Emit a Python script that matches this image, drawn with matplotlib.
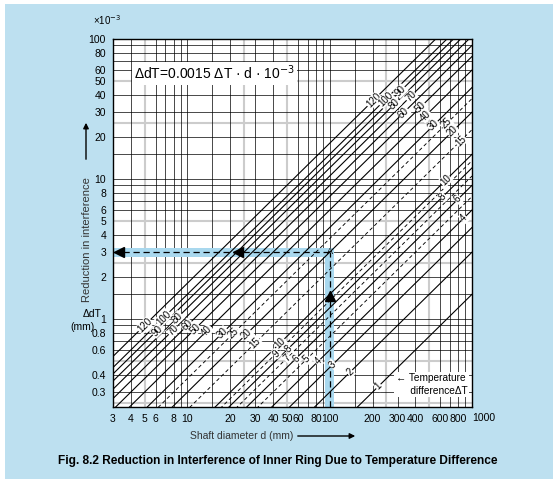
import numpy as np
import matplotlib
matplotlib.use('Agg')
import matplotlib.pyplot as plt
from matplotlib.patches import Rectangle, FancyArrowPatch

plt.rcParams['font.family'] = ['Liberation Sans', 'DejaVu Sans']

# temperature differences (deg C) drawn as lines dAT = 0.0015 * dT * d
delta_t = [1, 2, 3, 4, 5, 6, 7, 8, 9, 10, 15, 20, 25, 30, 40, 50, 60, 70, 80, 90, 100, 120]
dashed_t = [5, 7, 9, 15, 25]

# where the labels sit along each line (shaft diameter, mm)
low_label_d = {120: 5.0, 100: 6.8, 90: 6.1, 80: 8.5, 70: 7.9, 60: 10, 50: 11.3, 40: 13.7,
               30: 17.7, 25: 21, 20: 26, 15: 30, 10: 45, 9: 42, 8: 51, 7: 50, 6: 58,
               5: 69, 4: 83, 3: 105, 2: 139, 1: 220}
high_label_d = {120: 203, 100: 247, 90: 315, 80: 286, 70: 371, 60: 330, 50: 436, 40: 472,
                30: 538, 25: 664, 20: 731, 15: 834, 10: 653, 8: 623, 6: 794, 4: 874}

x_ticks = [3, 4, 5, 6, 8, 10, 20, 30, 40, 50, 60, 80, 100, 200, 300, 400, 600, 800]
y_ticks = [0.3, 0.4, 0.6, 0.8, 1, 2, 3, 4, 5, 6, 8, 10, 20, 30, 40, 50, 60, 80, 100]

# worked example: d = 100 mm, dT = 20 -> 3e-3 mm
ex_d, ex_y = 100, 3

W, H = 557, 483
fig = plt.figure(figsize=(W / 100, H / 100), dpi=100)
fig.patch.set_facecolor('white')
fig.patches.append(Rectangle((5 / W, 4 / H), (W - 9) / W, (H - 8) / H,
                             transform=fig.transFigure, facecolor='#bde0f0',
                             edgecolor='none', zorder=-10))

ax = fig.add_axes([113 / W, 1 - 407 / H, (472 - 113) / W, (407 - 39) / H])
ax.set_zorder(1)
ax.set_facecolor('white')
ax.set_xscale('log')
ax.set_yscale('log')
xmin, xmax, ymin, ymax = 3, 1000, 0.235, 100
ax.set_xlim(xmin, xmax)
ax.set_ylim(ymin, ymax)

# grid
for k in [1, 10, 100, 1000]:
    for m in [1, 1.5, 2, 3, 4, 6, 7, 8, 9]:
        v = m * k
        if xmin < v < xmax:
            ax.axvline(v, color='black', lw=0.5, zorder=1)
    for m in [2.5, 5]:
        v = m * k
        if xmin < v < xmax:
            ax.axvline(v, color='#cccccc', lw=1.5, zorder=0.5)
for k in [0.1, 1, 10]:
    for m in [1, 1.5, 2, 3, 4, 6, 7, 8, 9]:
        v = m * k
        if ymin < v < ymax:
            ax.axhline(v, color='black', lw=0.5, zorder=1)
    for m in [2.5, 5]:
        v = m * k
        if ymin < v < ymax:
            ax.axhline(v, color='#cccccc', lw=1.5, zorder=0.5)

# example highlight bands
band_lo, band_hi = ex_y / 1.077, ex_y * 1.077
ax.fill_between([xmin, ex_d * 1.08], band_lo, band_hi, color='#a9d8ee', lw=0, zorder=1.5)
ax.fill_betweenx([ymin, band_hi], ex_d / 1.073, ex_d * 1.08, color='#a9d8ee', lw=0, zorder=1.5)

# temperature lines
d = np.array([xmin, xmax])
for t in delta_t:
    ls = (0, (4, 3)) if t in dashed_t else '-'
    lw = 0.65 if t in dashed_t else 0.8
    ax.plot(d, 0.0015 * t * d, color='black', lw=lw, ls=ls, zorder=2)

lbl = dict(fontsize=7, rotation=44.6, rotation_mode='anchor', ha='center', va='center',
           zorder=4, bbox=dict(facecolor='white', edgecolor='none', pad=0.3))
for t, xd in low_label_d.items():
    ax.text(xd, 0.0015 * t * xd, str(t), **lbl)
for t, xd in high_label_d.items():
    ax.text(xd, 0.0015 * t * xd, str(t), **lbl)

# example dashed path and arrows
ax.plot([xmin, ex_d], [ex_y, ex_y], color='black', lw=0.9, ls=(0, (5, 3)), zorder=3)
ax.plot([ex_d, ex_d], [ymin, ex_y], color='black', lw=0.9, ls=(0, (5, 3)), zorder=3)
ax.plot([3.3, 22.5], [ex_y, ex_y], marker='<', ls='none', color='black', ms=7, zorder=3)
ax.plot([ex_d], [1.45], marker='^', ls='none', color='black', ms=7, zorder=3)
ax.text(ex_d * 1.01, ex_y * 1.01, 'A', fontsize=6.5, ha='center', va='center', zorder=4)

ax.text(4.2, 57, 'ΔdT=0.0015 ΔT · d · 10$^{-3}$', fontsize=10, ha='left', va='center',
        zorder=4, bbox=dict(facecolor='white', edgecolor='none', pad=1.5))
ax.text(290, 0.34, '← Temperature\n     differenceΔT', fontsize=7.3, ha='left', va='center',
        linespacing=1.35, zorder=4, bbox=dict(facecolor='white', edgecolor='none', pad=1.0))

ax.set_xticks(x_ticks)
ax.set_xticklabels([str(v) for v in x_ticks])
ax.set_yticks(y_ticks)
ax.set_yticklabels([('%g' % v) for v in y_ticks])
ax.minorticks_off()
ax.tick_params(length=0, labelsize=7.5, pad=5)
for s in ax.spines.values():
    s.set_linewidth(1.0)
    s.set_zorder(5)


def ftext(x, y, s, **kw):
    fig.text(x / W, 1 - y / H, s, **kw)


# last x label sits just past the frame, as on the original sheet
ftext(484, 418, '1000', fontsize=7.5, ha='center', va='center')

ftext(93, 20, '×10$^{-3}$', fontsize=7, ha='left', va='center')
ftext(87, 240, 'Reduction in interference', fontsize=8, rotation=90, ha='center', va='center',
      color='#333333')
fig.add_artist(FancyArrowPatch((86 / W, 1 - 162 / H), (86 / W, 1 - 120 / H),
                               transform=fig.transFigure, arrowstyle='-|>',
                               mutation_scale=8, lw=1, color='black'))
ftext(92, 314, 'ΔdT', fontsize=7.5, ha='center', va='center')
ftext(83, 327, '(mm)', fontsize=7.5, ha='center', va='center')

ftext(242, 436, 'Shaft diameter d (mm)', fontsize=7.5, ha='center', va='center', color='#333333')
fig.add_artist(FancyArrowPatch((295 / W, 1 - 436 / H), (358 / W, 1 - 436 / H),
                               transform=fig.transFigure, arrowstyle='-|>',
                               mutation_scale=8, lw=1, color='black'))
ftext(278, 461, 'Fig. 8.2 Reduction in Interference of Inner Ring Due to Temperature Difference',
      fontsize=8.6, fontweight='bold', ha='center', va='center')

fig.savefig('out.png', dpi=100, facecolor=fig.get_facecolor())
